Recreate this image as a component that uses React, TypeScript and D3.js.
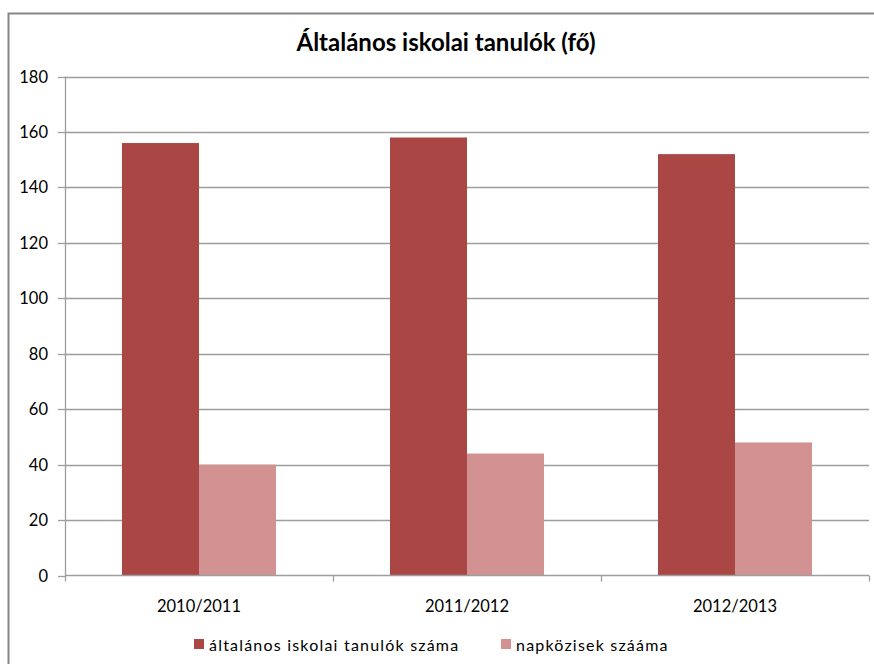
import React, { useEffect, useRef } from 'react';
import * as d3 from 'd3';

const categories = ['2010/2011', '2011/2012', '2012/2013'];
const seriesNames = ['általános iskolai tanulók száma', 'napközisek szááma'];
const students = [156, 158, 152];
const dayCare = [40, 44, 48];
const yTicks = [0, 20, 40, 60, 80, 100, 120, 140, 160, 180];
const colors = ['#AA4643', '#D29291'];

const W = 874;
const H = 664;
const FONT = 'Lato, "Open Sans", sans-serif';

export default function App() {
    const svgRef = useRef<SVGSVGElement>(null);

    useEffect(() => {
        if (!svgRef.current) return;
        const svg = d3.select(svgRef.current);
        svg.selectAll('*').remove();

        const left = 65, right = 869, top = 76.5, bottom = 575.5;

        // outer frame
        svg.append('rect')
            .attr('x', 8.5).attr('y', 13.5)
            .attr('width', 880).attr('height', 700)
            .attr('fill', 'white')
            .attr('stroke', '#868686')
            .attr('stroke-width', 2);

        svg.append('text')
            .attr('x', 446).attr('y', 51)
            .attr('text-anchor', 'middle')
            .style('font-family', FONT)
            .style('font-weight', 'bold')
            .style('font-size', '24px')
            .text('Általános iskolai tanulók (fő)');

        const y = d3.scaleLinear().domain([0, 180]).range([bottom, top]);
        const x0 = d3.scaleBand().domain(categories).range([left, right]).paddingInner(0).paddingOuter(0);

        // gridlines
        svg.append('g').selectAll('line')
            .data(yTicks.filter(t => t > 0))
            .enter().append('line')
            .attr('x1', left).attr('x2', right)
            .attr('y1', d => Math.round(y(d)) + 0.5)
            .attr('y2', d => Math.round(y(d)) + 0.5)
            .attr('stroke', '#9D9D9D')
            .attr('stroke-width', 1.3);

        // bars
        const bw = x0.bandwidth();
        const barW = bw / 3.48;
        const series = [students, dayCare];
        series.forEach((vals, si) => {
            svg.append('g').selectAll('rect')
                .data(vals)
                .enter().append('rect')
                .attr('x', (d, i) => (x0(categories[i]) as number) + (bw - 2 * barW) / 2 + si * barW)
                .attr('y', d => y(d))
                .attr('width', barW)
                .attr('height', d => bottom - y(d))
                .attr('fill', colors[si]);
        });

        // y axis
        const yAxis = svg.append('g');
        yAxis.append('line')
            .attr('x1', left + 0.5).attr('x2', left + 0.5)
            .attr('y1', top).attr('y2', bottom)
            .attr('stroke', '#9D9D9D').attr('stroke-width', 1.3);
        yAxis.selectAll('.tick')
            .data(yTicks)
            .enter().append('line')
            .attr('x1', left - 7).attr('x2', left)
            .attr('y1', d => Math.round(y(d)) + 0.5)
            .attr('y2', d => Math.round(y(d)) + 0.5)
            .attr('stroke', '#9D9D9D').attr('stroke-width', 1.3);
        yAxis.selectAll('text')
            .data(yTicks)
            .enter().append('text')
            .attr('x', 48)
            .attr('y', d => y(d) + 6)
            .attr('text-anchor', 'end')
            .style('font-family', FONT)
            .style('font-size', '16.5px')
            .text(d => d);

        // x axis
        const xAxis = svg.append('g');
        xAxis.append('line')
            .attr('x1', left).attr('x2', right)
            .attr('y1', bottom).attr('y2', bottom)
            .attr('stroke', '#9D9D9D').attr('stroke-width', 1.3);
        const edges = categories.map(c => x0(c) as number).concat([right]);
        xAxis.selectAll('.tk')
            .data(edges)
            .enter().append('line')
            .attr('x1', d => d + 0.5).attr('x2', d => d + 0.5)
            .attr('y1', bottom).attr('y2', bottom + 6)
            .attr('stroke', '#9D9D9D').attr('stroke-width', 1.3);
        xAxis.selectAll('text')
            .data(categories)
            .enter().append('text')
            .attr('x', d => (x0(d) as number) + bw / 2)
            .attr('y', 612)
            .attr('text-anchor', 'middle')
            .style('font-family', FONT)
            .style('font-size', '16.5px')
            .text(d => d);

        // legend
        const legendX = [194, 501];
        const lg = svg.append('g');
        seriesNames.forEach((name, i) => {
            lg.append('rect')
                .attr('x', legendX[i]).attr('y', 639)
                .attr('width', 10).attr('height', 10)
                .attr('fill', colors[i]);
            lg.append('text')
                .attr('x', legendX[i] + 15).attr('y', 651)
                .style('font-family', FONT)
                .style('font-size', '16px')
                .style('letter-spacing', '1.2px')
                .text(name);
        });
    }, []);

    return (
        <div style={{ position: 'absolute', left: 0, top: 0 }}>
            <svg ref={svgRef} width={W} height={H} viewBox={`0 0 ${W} ${H}`} style={{ display: 'block' }} />
        </div>
    );
}
